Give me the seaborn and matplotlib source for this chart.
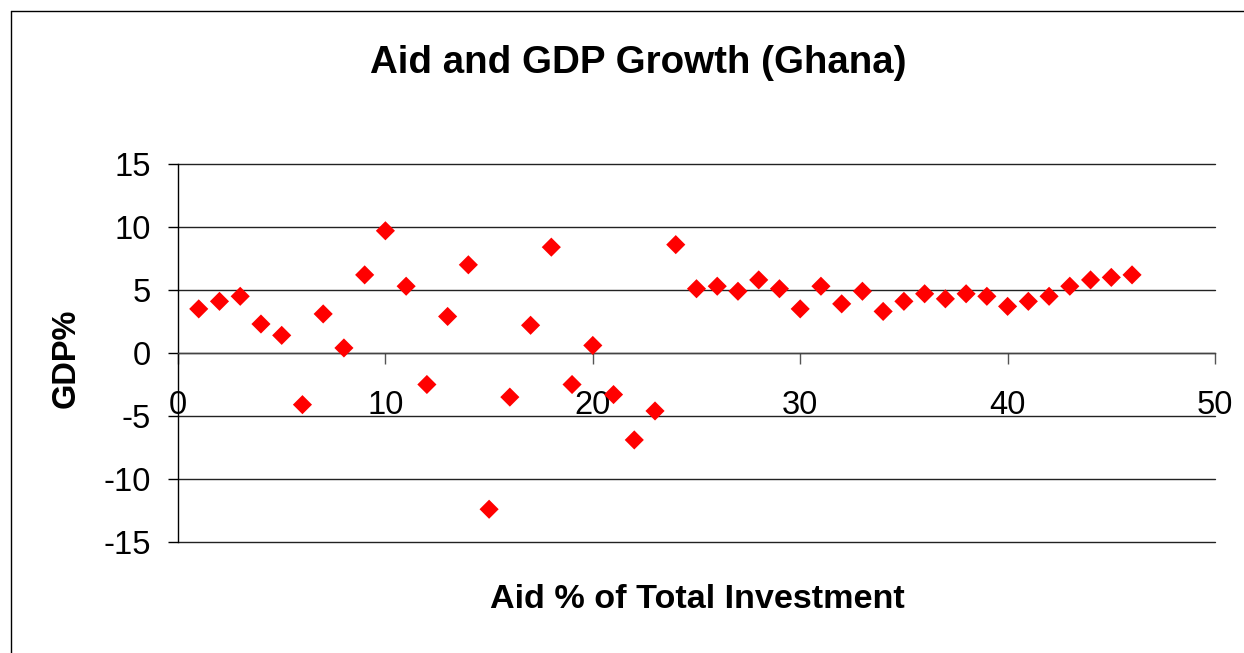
import matplotlib
matplotlib.use("Agg")
import matplotlib.pyplot as plt
import seaborn as sns
import pandas as pd
from matplotlib.lines import Line2D

aid_pct = list(range(1, 47))
gdp_pct = [3.5, 4.1, 4.5, 2.3, 1.4, -4.1, 3.1, 0.4, 6.2, 9.7,
           5.3, -2.5, 2.9, 7.0, -12.4, -3.5, 2.2, 8.4, -2.5, 0.6,
           -3.3, -6.9, -4.6, 8.6, 5.1, 5.3, 4.9, 5.8, 5.1, 3.5,
           5.3, 3.9, 4.9, 3.3, 4.1, 4.7, 4.3, 4.7, 4.5, 3.7,
           4.1, 4.5, 5.3, 5.8, 6.0, 6.2]
x_ticks = [0, 10, 20, 30, 40, 50]
y_ticks = [-15, -10, -5, 0, 5, 10, 15]

title = "Aid and GDP Growth (Ghana)"
x_label = "Aid % of Total Investment"
y_label = "GDP%"

df = pd.DataFrame({"aid": aid_pct, "gdp": gdp_pct})

sns.set_theme(style="white")
plt.rcParams["font.family"] = ["Liberation Sans", "DejaVu Sans"]

W, H = 1244, 653
fig = plt.figure(figsize=(W / 100, H / 100), dpi=100)
fig.patch.set_facecolor("white")

L, R, T, B = 178, 1215, 164, 542
ax = fig.add_axes([L / W, 1 - B / H, (R - L) / W, (B - T) / H])
ax.set_facecolor("white")

sns.scatterplot(data=df, x="aid", y="gdp", marker="D", s=95, color="#ff0000",
                edgecolor="none", linewidth=0, ax=ax, zorder=3, legend=False)

ax.set_xlim(0, 50)
ax.set_ylim(-15, 15)
ax.set_xticks(x_ticks)
ax.set_yticks(y_ticks)
ax.set_xticklabels([str(v) for v in x_ticks])
ax.set_yticklabels([str(v) for v in y_ticks])

for yv in y_ticks:
    ax.axhline(yv, color="#222222", lw=1.0, zorder=1, clip_on=False)

for s in ["top", "right"]:
    ax.spines[s].set_visible(False)
ax.spines["left"].set_color("black")
ax.spines["left"].set_linewidth(1.0)
ax.spines["bottom"].set_position(("data", 0))
ax.spines["bottom"].set_color("#444444")
ax.spines["bottom"].set_linewidth(1.0)

ax.tick_params(axis="y", direction="out", length=7.5, width=1.0, color="black",
               pad=12, labelsize=23.5, labelcolor="black", left=True)
ax.tick_params(axis="x", direction="out", length=8, width=1.0, color="#555555",
               pad=19, labelsize=23.5, labelcolor="black", bottom=True)

ax.set_xlabel("")
ax.set_ylabel("")

fig.text(638 / W, 1 - 73 / H, title, ha="center", va="baseline",
         fontsize=27.7, fontweight="bold", color="black")
fig.text(697 / W, 1 - 608 / H, x_label, ha="center", va="baseline",
         fontsize=24.6, fontweight="bold", color="black")
fig.text(66.5 / W, 1 - 358 / H, y_label, ha="center", va="center",
         rotation=90, fontsize=23.5, fontweight="bold", color="black")

bx, by = 10.5 / W, 1 - 10.5 / H
fig.lines.append(Line2D([bx, bx], [0, by], transform=fig.transFigure,
                        color="black", lw=1.0))
fig.lines.append(Line2D([bx, 1], [by, by], transform=fig.transFigure,
                        color="black", lw=1.0))

fig.savefig("out.png", dpi=100, facecolor="white")
